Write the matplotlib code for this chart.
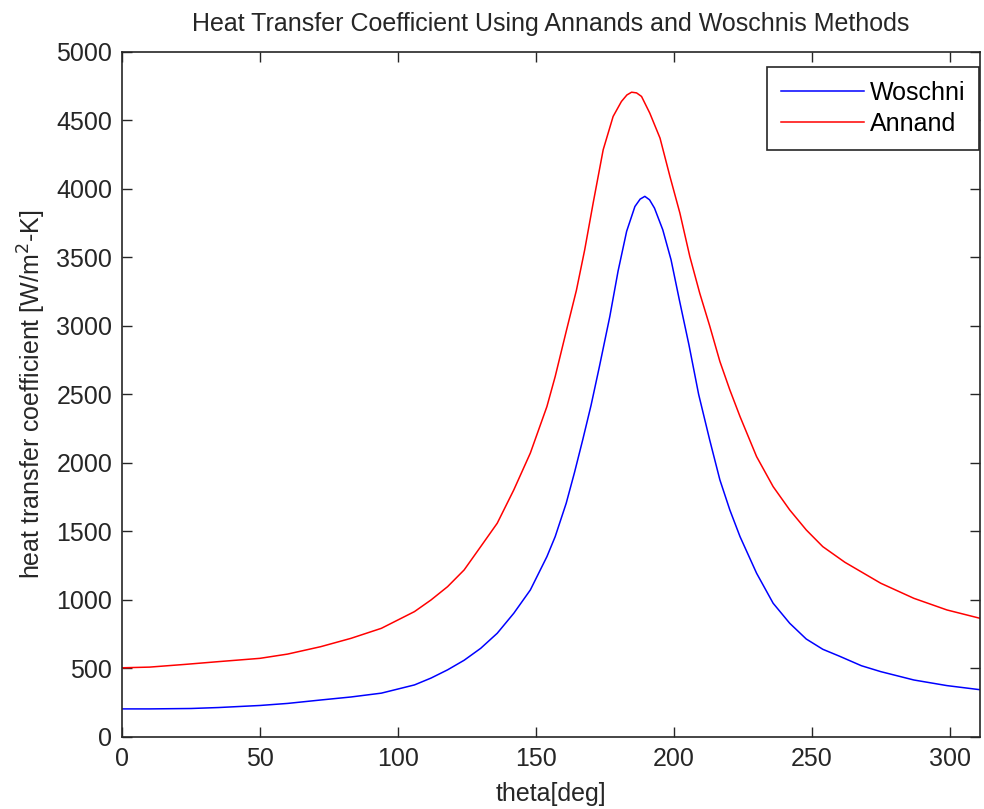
import matplotlib
matplotlib.use("Agg")
import matplotlib.pyplot as plt

# crank angle [deg] and heat transfer coefficient [W/m^2-K]
theta_w = [0, 10, 25, 35, 50, 60, 72, 83, 94, 100, 106, 112, 118, 124, 130,
           136, 142, 148, 154, 157, 161, 164, 167, 170, 173, 176.8, 179.8,
           182.9, 185.9, 187.8, 189.5, 191.2, 193, 196, 199, 202, 205.5, 209,
           213, 216.7, 220.3, 224, 230, 236, 242, 248, 254, 260, 268, 275,
           287, 299, 311]
woschni = [205, 205, 208, 215, 230, 245, 270, 292, 320, 350, 380, 430, 490,
           560, 647, 757, 903, 1073, 1316, 1462, 1706, 1930, 2170, 2420, 2700,
           3068, 3400, 3690, 3871, 3925, 3945, 3920, 3859, 3701, 3482, 3190,
           2860, 2500, 2168, 1876, 1657, 1462, 1195, 976, 830, 715, 640, 590,
           520, 477, 416, 375, 345]

theta_a = [0, 10, 23, 35, 50, 60, 72, 83, 94, 100, 106, 112, 118, 124, 130,
           136, 142, 148, 154, 157, 161, 164.7, 167.7, 170.8, 174.4, 178, 181,
           183, 184.7, 186.5, 188.3, 191.3, 195, 198.6, 202.2, 205.8, 209.4,
           213, 216.7, 220.3, 224, 230, 236, 242, 248, 254, 262, 275, 287, 299,
           311]
annand = [505, 510, 530, 550, 574, 605, 659, 720, 793, 854, 915, 1000, 1097,
          1219, 1389, 1560, 1803, 2072, 2411, 2630, 2960, 3260, 3555, 3900,
          4285, 4528, 4637, 4685, 4705, 4700, 4674, 4552, 4370, 4090, 3823,
          3506, 3238, 3000, 2740, 2533, 2338, 2046, 1827, 1657, 1511, 1389,
          1275, 1122, 1012, 927, 866]

plt.rcParams['font.family'] = ['Liberation Sans', 'DejaVu Sans']
fs = 18

fig = plt.figure(figsize=(9.84, 8.09), dpi=100)
ax = fig.add_axes([0.124, 0.089, 0.872, 0.847])

ax.plot(theta_w, woschni, color=(0, 0, 1), lw=1.1, label='Woschni')
ax.plot(theta_a, annand, color=(1, 0, 0), lw=1.1, label='Annand')

ax.set_xlim(0, 311)
ax.set_ylim(0, 5000)
ax.set_xticks(range(0, 301, 50))
ax.set_yticks(range(0, 5001, 500))
ax.tick_params(direction='in', length=7, width=1, top=True, right=True,
               labelsize=fs, pad=7, colors='#262626')
for s in ax.spines.values():
    s.set_linewidth(1.2)
    s.set_color('#262626')

ax.set_title('Heat Transfer Coefficient Using Annands and Woschnis Methods',
             fontsize=fs, pad=15, color='#262626')
ax.set_xlabel('theta[deg]', fontsize=fs, labelpad=8, color='#262626')
ax.set_ylabel('heat transfer coefficient [W/m$^2$-K]', fontsize=fs,
              labelpad=6, color='#262626')

leg = ax.legend(loc='upper right', bbox_to_anchor=(0.999, 0.978),
                fontsize=fs, handlelength=3.3, fancybox=False, framealpha=1,
                borderaxespad=0, handletextpad=0.25, borderpad=0.55,
                labelspacing=0.3)
leg.get_frame().set_edgecolor('#262626')
leg.get_frame().set_linewidth(1.2)

fig.savefig('out.png', dpi=100)
